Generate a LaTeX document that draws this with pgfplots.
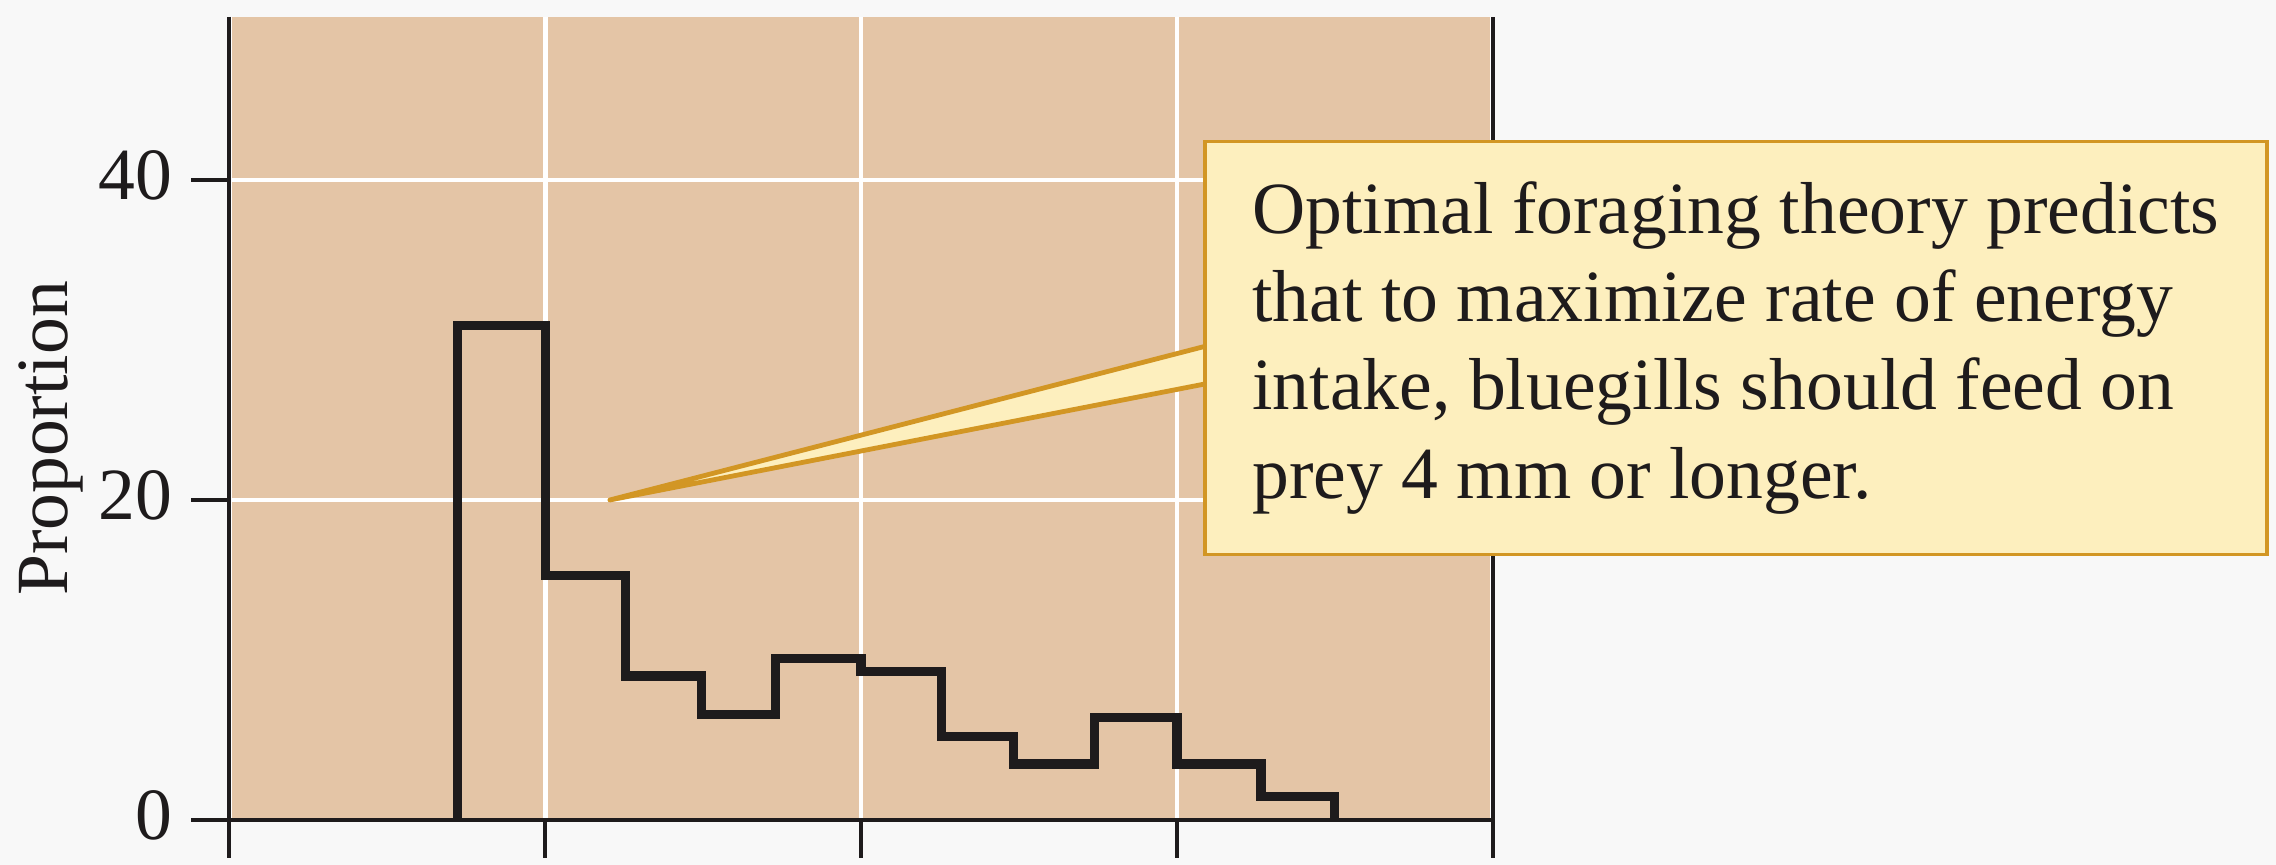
\documentclass[border=0pt]{standalone}
\usepackage{fontspec}
\setmainfont{Liberation Serif}
\usepackage{pgfplots}
\pgfplotsset{compat=1.18}

\definecolor{figbg}{RGB}{248,248,248}
\definecolor{plotbg}{RGB}{228,197,166}
\definecolor{boxfill}{RGB}{253,239,190}
\definecolor{boxedge}{RGB}{210,150,36}
\definecolor{ink}{RGB}{30,27,28}

\begin{document}
\begin{tikzpicture}
\fill[figbg] (-57.3pt,-11.25pt) rectangle (511.7pt,205pt);
\useasboundingbox (-57.3pt,-11.25pt) rectangle (511.7pt,205pt);
\begin{axis}[
  at={(0,0)}, anchor=south west,
  scale only axis, width=315.9pt, height=200.8pt,
  xmin=0, xmax=4, ymin=0, ymax=50.2,
  xtick={0,1,2,3,4}, xticklabels={},
  ytick={0,20,40},
  axis background/.style={fill=plotbg},
  grid=major, major grid style={white, line width=1.2pt},
  axis line style={draw=none},
  tick align=outside, xtick pos=bottom, ytick pos=left,
  major tick length=9.5pt,
  tick style={ink, line width=1pt},
  ticklabel style={font=\fontsize{18.4}{22}\selectfont, text=ink},
  yticklabel style={inner xsep=4.6pt, yshift=1.2pt},
  /pgf/number format/assume math mode=true,
  ylabel={Proportion},
  every axis y label/.style={at={(axis description cs:-0.141,0.475)}, rotate=90, anchor=center,
    font=\fontsize{18.4}{22}\selectfont, text=ink},
  clip=false,
]
% prey size histogram outline (bin left edge, proportion)
\addplot[const plot, ink, line width=2.3pt, line join=miter] coordinates {
  (0.723,0) (0.723,30.9) (1.000,15.3) (1.255,9.0) (1.495,6.6) (1.730,10.1)
  (2.000,9.3) (2.255,5.2) (2.482,3.5) (2.738,6.4) (3.000,3.5) (3.266,1.45) (3.500,0)
};
\draw[ink, line width=1pt] (rel axis cs:0,1) -- (rel axis cs:0,0) -- (rel axis cs:1,0) -- (rel axis cs:1,1);
\coordinate (tip) at (axis cs:1.205,20);
\end{axis}

% callout
\fill[boxfill] (tip) -- (243.9pt,118.4pt) -- (243.9pt,109pt) -- cycle;
\draw[boxedge, line width=1.2pt, line join=round] (243.9pt,118.4pt) -- (tip) -- (243.9pt,109pt);
\draw[boxedge, fill=boxfill, line width=0.9pt] (243.9pt,66.4pt) rectangle (509.5pt,169.6pt);
\begin{scope}[every node/.style={anchor=base west, inner sep=0pt, text=ink, font=\fontsize{18.4}{22}\selectfont}]
\node at (255.6pt,146.7pt) {Optimal foraging theory predicts};
\node at (255.6pt,124.6pt) {that to maximize rate of energy};
\node at (255.6pt,102.5pt) {intake, bluegills should feed on};
\node at (255.6pt,80.4pt) {prey 4 mm or longer.};
\end{scope}
\end{tikzpicture}
\end{document}
